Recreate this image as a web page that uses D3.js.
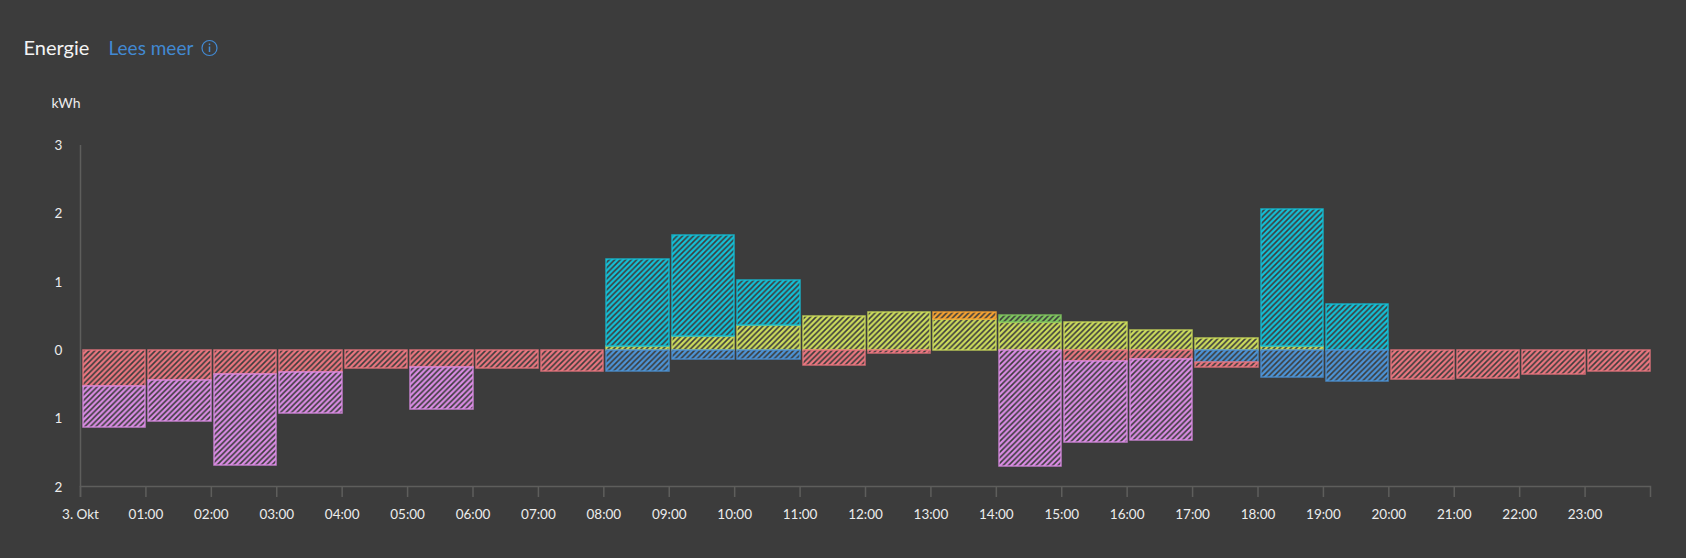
<!DOCTYPE html>
<html><head><meta charset="utf-8">
<script src="https://cdn.jsdelivr.net/npm/d3@7"></script>
<style>
html,body{margin:0;padding:0;background:#3c3c3c;overflow:hidden}
svg{display:block}
text{font-family:Lato,sans-serif}
</style></head><body><svg id="c" width="1686" height="558"></svg>
<script>
const hours=d3.range(24);
const xTickLabels=["3. Okt","01:00","02:00","03:00","04:00","05:00","06:00","07:00","08:00","09:00","10:00","11:00","12:00","13:00","14:00","15:00","16:00","17:00","18:00","19:00","20:00","21:00","22:00","23:00"];
const yTicks=[3,2,1,0,-1,-2];
const yellow=[0,0,0,0,0,0,0,0,.05,.20,.36,.49,.55,.445,.40,.41,.29,.17,.05,0,0,0,0,0];
const cyan=[0,0,0,0,0,0,0,0,1.27,1.48,.66,0,0,0,0,0,0,0,2.0,.67,0,0,0,0];
const orange=[0,0,0,0,0,0,0,0,0,0,0,0,0,.105,0,0,0,0,0,0,0,0,0,0];
const green=[0,0,0,0,0,0,0,0,0,0,0,0,0,0,.105,0,0,0,0,0,0,0,0,0];
const blue=[0,0,0,0,0,0,0,0,-.31,-.13,-.14,0,0,0,0,0,0,-.187,-.405,-.46,0,0,0,0];
const red=[-.53,-.45,-.36,-.33,-.27,-.26,-.27,-.31,0,0,0,-.23,-.055,0,0,-.16,-.135,-.063,0,0,-.43,-.41,-.36,-.31];
const purple=[-.60,-.59,-1.33,-.59,0,-.60,0,0,0,0,0,0,0,0,-1.70,-1.19,-1.185,0,0,0,0,0,0,0];
const seriesNames=["yellow","cyan","orange","green","blue","red","purple"];
const seriesValues=[yellow,cyan,orange,green,blue,red,purple];
const seriesColors=["#cddd5c","#14c0d6","#f8a432","#80c860","#4c94d6","#ea767f","#da8ce4"];

const svg=d3.select("#c");
const bg="#3c3c3c",axisCol="#5e5e5c",txt="#ececec";
const x=d3.scaleLinear().domain([0,24]).range([80,1650]);
const y=d3.scaleLinear().domain([-2,3]).range([486.5,144.5]);

const defs=svg.append("defs");
seriesNames.forEach((n,i)=>{
  const p=defs.append("pattern").attr("id","h-"+n).attr("patternUnits","userSpaceOnUse").attr("width",5.5).attr("height",5.5);
  p.append("rect").attr("width",5.5).attr("height",5.5).attr("fill",seriesColors[i]);
  p.append("path").attr("d","M0 5.5L5.5 0M-1 1L1 -1M4.5 6.5L6.5 4.5").attr("stroke",bg).attr("stroke-width",1.6).attr("fill","none");
});

const table=hours.map(h=>{const r={h};seriesNames.forEach((n,i)=>r[n]=seriesValues[i][h]);return r;});
const stacked=d3.stack().keys(seriesNames).offset(d3.stackOffsetDiverging)(table);

const g=svg.append("g");
stacked.forEach((s,i)=>{
  g.append("g").selectAll("rect").data(s.filter(d=>d[0]!==d[1])).join("rect")
   .attr("x",d=>Math.round(x(d.data.h))+3)
   .attr("width",d=>Math.round(x(d.data.h+1))-Math.round(x(d.data.h))-3)
   .attr("y",d=>Math.round(y(Math.max(d[0],d[1]))))
   .attr("height",d=>Math.round(y(Math.min(d[0],d[1])))-Math.round(y(Math.max(d[0],d[1]))))
   .attr("fill",`url(#h-${s.key})`)
   .attr("stroke",seriesColors[i]).attr("stroke-width",1.5).attr("stroke-opacity",.85);
});

const ax=d3.axisBottom(x).tickValues(hours).tickSize(11).tickPadding(12).tickFormat(d=>xTickLabels[d]);
const gx=svg.append("g").attr("transform","translate(0,486)").call(ax);
gx.select(".domain").attr("stroke",axisCol).attr("stroke-width",1.5);
gx.selectAll(".tick line").attr("stroke",axisCol).attr("stroke-width",1.5);
gx.selectAll(".tick text").attr("fill",txt).style("font-size","13.5px").style("font-family","Lato,sans-serif");

const ay=d3.axisLeft(y).tickValues(yTicks).tickSize(0).tickPadding(0).tickFormat(d=>Math.abs(d));
const gy=svg.append("g").attr("transform","translate(80,0)").call(ay);
gy.select(".domain").attr("stroke",axisCol).attr("stroke-width",1.5);
gy.selectAll(".tick text").attr("x",-21.5).attr("text-anchor","middle").attr("dy","0.36em").attr("fill",txt).style("font-size","13.5px").style("font-family","Lato,sans-serif");

svg.append("text").attr("x",23.5).attr("y",54.5).attr("fill","#f4f4f4").style("font-size","20px").text("Energie");
svg.append("text").attr("x",108.5).attr("y",54.5).attr("fill","#4289d2").style("font-size","19px").text("Lees meer");
const ic=svg.append("g").attr("transform","translate(209.5,48)");
ic.append("circle").attr("r",7.5).attr("fill","none").attr("stroke","#4289d2").attr("stroke-width",1.2);
ic.append("rect").attr("x",-.75).attr("y",-1.5).attr("width",1.5).attr("height",5.5).attr("fill","#4289d2");
ic.append("rect").attr("x",-.75).attr("y",-4.5).attr("width",1.5).attr("height",1.6).attr("fill","#4289d2");
svg.append("text").attr("x",51.5).attr("y",108).attr("fill",txt).style("font-size","14px").text("kWh");
</script></body></html>
